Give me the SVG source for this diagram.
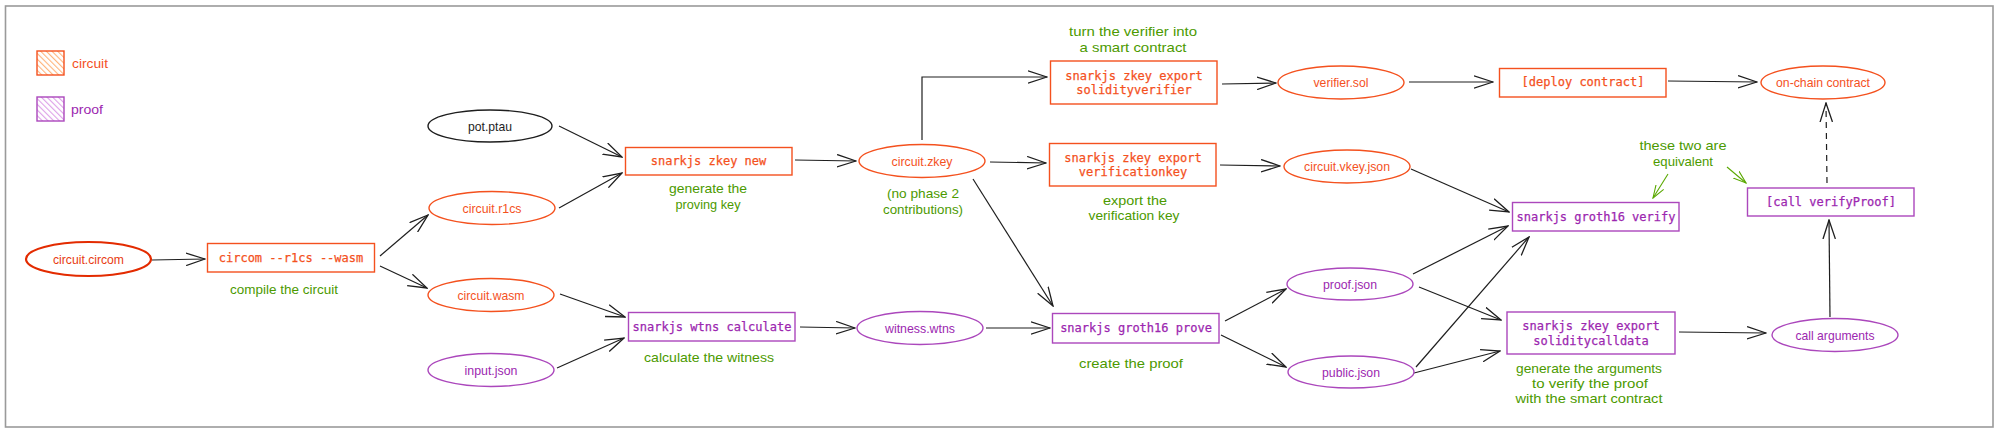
<svg xmlns="http://www.w3.org/2000/svg" width="2000" height="433" viewBox="0 0 2000 433">
<style>
.frame{fill:#fff;stroke:#9a9a9a;stroke-width:1.6}
.eo{fill:none;stroke:#f4511e;stroke-width:1.4}
.ep{fill:none;stroke:#ab47bc;stroke-width:1.4}
.ek{fill:none;stroke:#1e1e1e;stroke-width:1.4}
.ered{fill:none;stroke:#e32b00;stroke-width:2.2}
.bo{fill:none;stroke:#f4511e;stroke-width:1.4}
.bp{fill:none;stroke:#ab47bc;stroke-width:1.4}
.lo{font-family:"Liberation Sans",Arial,sans-serif;font-size:13.5px;fill:#f4511e;text-anchor:middle;dominant-baseline:central}
.lp{font-family:"Liberation Sans",Arial,sans-serif;font-size:13.5px;fill:#9c27b0;text-anchor:middle;dominant-baseline:central}
.lk{font-family:"Liberation Sans",Arial,sans-serif;font-size:13.5px;fill:#1e1e1e;text-anchor:middle;dominant-baseline:central}
.mo{font-family:"DejaVu Sans Mono","Liberation Mono",monospace;font-size:12px;fill:#f4511e;text-anchor:middle;dominant-baseline:central;stroke:#f4511e;stroke-width:0.25}
.mp{font-family:"DejaVu Sans Mono","Liberation Mono",monospace;font-size:12px;fill:#9c27b0;text-anchor:middle;dominant-baseline:central;stroke:#9c27b0;stroke-width:0.25}
.g{font-family:"Liberation Sans",Arial,sans-serif;font-size:13px;fill:#4c9a00;text-anchor:middle;dominant-baseline:central}
.c{fill:none;stroke:#1e1e1e;stroke-width:1.2}
.cg{fill:none;stroke:#5aa800;stroke-width:1.1}
</style>
<defs>
<marker id="ah" viewBox="0 0 20 14" refX="19" refY="7" markerWidth="20" markerHeight="14" markerUnits="userSpaceOnUse" orient="auto">
<path d="M0,0.8 L19,7 L0,13.2" fill="none" stroke="#1e1e1e" stroke-width="1.3"/>
</marker>
<marker id="ahg" viewBox="0 0 14 10" refX="13" refY="5" markerWidth="14" markerHeight="10" markerUnits="userSpaceOnUse" orient="auto">
<path d="M0,0.5 L13,5 L0,9.5" fill="none" stroke="#5aa800" stroke-width="1.1"/>
</marker>
<pattern id="hatchO" patternUnits="userSpaceOnUse" width="4" height="4" patternTransform="rotate(-45)">
<rect width="4" height="4" fill="#fff"/>
<line x1="0" y1="0" x2="0" y2="4" stroke="#ffb47a" stroke-width="2.2"/>
</pattern>
<pattern id="hatchP" patternUnits="userSpaceOnUse" width="4" height="4" patternTransform="rotate(-45)">
<rect width="4" height="4" fill="#fff"/>
<line x1="0" y1="0" x2="0" y2="4" stroke="#dda0e8" stroke-width="2.2"/>
</pattern>
</defs>
<rect class="frame" x="5.5" y="6" width="1987.5" height="421"/>

<g id="legend">
<rect x="37" y="51" width="27" height="24" fill="url(#hatchO)" stroke="#f4511e" stroke-width="1.4"/>
<text x="72" y="63" font-family="Liberation Sans,Arial,sans-serif" font-size="13" fill="#f4511e" dominant-baseline="central" textLength="36" lengthAdjust="spacingAndGlyphs">circuit</text>
<rect x="37" y="97" width="27" height="24" fill="url(#hatchP)" stroke="#ab47bc" stroke-width="1.4"/>
<text x="71" y="109" font-family="Liberation Sans,Arial,sans-serif" font-size="13" fill="#9c27b0" dominant-baseline="central" textLength="32" lengthAdjust="spacingAndGlyphs">proof</text>
</g>

<g id="connectors">
<line class="c" x1="152" y1="260" x2="205" y2="259" marker-end="url(#ah)"/>
<line class="c" x1="380" y1="256" x2="428" y2="215" marker-end="url(#ah)"/>
<line class="c" x1="380" y1="266" x2="427" y2="288" marker-end="url(#ah)"/>
<line class="c" x1="559" y1="126" x2="622" y2="157" marker-end="url(#ah)"/>
<line class="c" x1="559" y1="208" x2="622" y2="173" marker-end="url(#ah)"/>
<line class="c" x1="795" y1="160" x2="856" y2="161" marker-end="url(#ah)"/>
<line class="c" x1="560" y1="294" x2="625" y2="317" marker-end="url(#ah)"/>
<line class="c" x1="557" y1="368" x2="624" y2="338" marker-end="url(#ah)"/>
<line class="c" x1="800" y1="327" x2="855" y2="328" marker-end="url(#ah)"/>
<polyline class="c" points="922,140 922,77 1047,77" marker-end="url(#ah)"/>
<line class="c" x1="990" y1="162" x2="1046" y2="163" marker-end="url(#ah)"/>
<line class="c" x1="973" y1="179" x2="1053" y2="306" marker-end="url(#ah)"/>
<line class="c" x1="986" y1="328" x2="1050" y2="328" marker-end="url(#ah)"/>
<line class="c" x1="1222" y1="84" x2="1276" y2="83" marker-end="url(#ah)"/>
<line class="c" x1="1220" y1="165" x2="1280" y2="166" marker-end="url(#ah)"/>
<line class="c" x1="1409" y1="82" x2="1493" y2="82" marker-end="url(#ah)"/>
<line class="c" x1="1668" y1="81" x2="1757" y2="82" marker-end="url(#ah)"/>
<line class="c" x1="1411" y1="169" x2="1509" y2="212" marker-end="url(#ah)"/>
<line class="c" x1="1225" y1="321" x2="1286" y2="289" marker-end="url(#ah)"/>
<line class="c" x1="1221" y1="335" x2="1286" y2="367" marker-end="url(#ah)"/>
<line class="c" x1="1413" y1="274" x2="1508" y2="226" marker-end="url(#ah)"/>
<line class="c" x1="1419" y1="287" x2="1501" y2="320" marker-end="url(#ah)"/>
<line class="c" x1="1416" y1="367" x2="1529" y2="237" marker-end="url(#ah)"/>
<line class="c" x1="1414" y1="373" x2="1500" y2="351" marker-end="url(#ah)"/>
<line class="c" x1="1679" y1="332" x2="1766" y2="333" marker-end="url(#ah)"/>
<line class="c" x1="1830" y1="317" x2="1829" y2="220" marker-end="url(#ah)"/>
<line class="c" x1="1827" y1="183" x2="1826" y2="103" stroke-dasharray="6,5" marker-end="url(#ah)"/>
<line class="cg" x1="1668" y1="174" x2="1653" y2="198" marker-end="url(#ahg)"/>
<line class="cg" x1="1727" y1="167" x2="1746" y2="183" marker-end="url(#ahg)"/>
</g>

<g id="circuit-circom">
<ellipse class="ered" cx="88.5" cy="259" rx="62.5" ry="17"/>
<text class="lo" x="88.5" y="259" textLength="71" lengthAdjust="spacingAndGlyphs" style="fill:#e83a10">circuit.circom</text>
</g>
<g id="circom-cmd">
<rect class="bo" x="207.5" y="243.5" width="167" height="28.5"/>
<text class="mo" x="291" y="258">circom --r1cs --wasm</text>
<text class="g" x="284" y="289" textLength="108" lengthAdjust="spacingAndGlyphs">compile the circuit</text>
</g>
<g id="pot-ptau">
<ellipse class="ek" cx="490" cy="126" rx="62" ry="16"/>
<text class="lk" x="490" y="126" textLength="44" lengthAdjust="spacingAndGlyphs">pot.ptau</text>
</g>
<g id="circuit-r1cs">
<ellipse class="eo" cx="492" cy="208" rx="63" ry="16.5"/>
<text class="lo" x="492" y="208" textLength="59" lengthAdjust="spacingAndGlyphs">circuit.r1cs</text>
</g>
<g id="circuit-wasm">
<ellipse class="eo" cx="491" cy="295" rx="63" ry="16.5"/>
<text class="lo" x="491" y="295" textLength="67" lengthAdjust="spacingAndGlyphs">circuit.wasm</text>
</g>
<g id="input-json">
<ellipse class="ep" cx="491" cy="370" rx="63" ry="16.5"/>
<text class="lp" x="491" y="370" textLength="53" lengthAdjust="spacingAndGlyphs">input.json</text>
</g>
<g id="zkey-new">
<rect class="bo" x="625.5" y="147.5" width="166.5" height="27.5"/>
<text class="mo" x="708.5" y="161">snarkjs zkey new</text>
<text class="g" x="708" y="188" textLength="78" lengthAdjust="spacingAndGlyphs">generate the</text>
<text class="g" x="708" y="204" textLength="65" lengthAdjust="spacingAndGlyphs">proving key</text>
</g>
<g id="wtns-calculate">
<rect class="bp" x="628.5" y="312.5" width="166.5" height="28.5"/>
<text class="mp" x="712" y="327">snarkjs wtns calculate</text>
<text class="g" x="709" y="357" textLength="130" lengthAdjust="spacingAndGlyphs">calculate the witness</text>
</g>
<g id="circuit-zkey">
<ellipse class="eo" cx="922" cy="161" rx="63" ry="16.5"/>
<text class="lo" x="922" y="161" textLength="61" lengthAdjust="spacingAndGlyphs">circuit.zkey</text>
<text class="g" x="923" y="193" textLength="72" lengthAdjust="spacingAndGlyphs">(no phase 2</text>
<text class="g" x="923" y="209" textLength="80" lengthAdjust="spacingAndGlyphs">contributions)</text>
</g>
<g id="witness-wtns">
<ellipse class="ep" cx="920" cy="328" rx="63" ry="16.5"/>
<text class="lp" x="920" y="328" textLength="70" lengthAdjust="spacingAndGlyphs">witness.wtns</text>
</g>
<g id="export-solidityverifier">
<text class="g" x="1133" y="31" textLength="128" lengthAdjust="spacingAndGlyphs">turn the verifier into</text>
<text class="g" x="1133" y="47" textLength="107" lengthAdjust="spacingAndGlyphs">a smart contract</text>
<rect class="bo" x="1050.5" y="61" width="166.5" height="43"/>
<text class="mo" x="1134" y="76">snarkjs zkey export</text>
<text class="mo" x="1134" y="90">solidityverifier</text>
</g>
<g id="export-verificationkey">
<rect class="bo" x="1049.5" y="143.5" width="166.5" height="42.5"/>
<text class="mo" x="1133" y="158">snarkjs zkey export</text>
<text class="mo" x="1133" y="172">verificationkey</text>
<text class="g" x="1135" y="200" textLength="64" lengthAdjust="spacingAndGlyphs">export the</text>
<text class="g" x="1134" y="215" textLength="91" lengthAdjust="spacingAndGlyphs">verification key</text>
</g>
<g id="groth16-prove">
<rect class="bp" x="1052.5" y="313.5" width="166.5" height="29.5"/>
<text class="mp" x="1136" y="328">snarkjs groth16 prove</text>
<text class="g" x="1131" y="363" textLength="104" lengthAdjust="spacingAndGlyphs">create the proof</text>
</g>
<g id="verifier-sol">
<ellipse class="eo" cx="1341" cy="82.5" rx="63" ry="16.5"/>
<text class="lo" x="1341" y="82.5" textLength="55" lengthAdjust="spacingAndGlyphs">verifier.sol</text>
</g>
<g id="circuit-vkey-json">
<ellipse class="eo" cx="1347" cy="166.5" rx="63" ry="16.5"/>
<text class="lo" x="1347" y="166.5" textLength="86" lengthAdjust="spacingAndGlyphs">circuit.vkey.json</text>
</g>
<g id="proof-json">
<ellipse class="ep" cx="1350" cy="284" rx="63" ry="16"/>
<text class="lp" x="1350" y="284" textLength="54" lengthAdjust="spacingAndGlyphs">proof.json</text>
</g>
<g id="public-json">
<ellipse class="ep" cx="1351" cy="372" rx="63" ry="16"/>
<text class="lp" x="1351" y="372" textLength="58" lengthAdjust="spacingAndGlyphs">public.json</text>
</g>
<g id="deploy-contract">
<rect class="bo" x="1499.5" y="68.5" width="166.5" height="28.5"/>
<text class="mo" x="1583" y="82">[deploy contract]</text>
</g>
<g id="on-chain-contract">
<ellipse class="eo" cx="1823" cy="82.5" rx="62" ry="16.5"/>
<text class="lo" x="1823" y="82.5" textLength="94" lengthAdjust="spacingAndGlyphs">on-chain contract</text>
</g>
<g id="groth16-verify">
<rect class="bp" x="1512.5" y="202.5" width="166.5" height="28.5"/>
<text class="mp" x="1596" y="217">snarkjs groth16 verify</text>
</g>
<g id="equivalent-note">
<text class="g" x="1683" y="145" textLength="87" lengthAdjust="spacingAndGlyphs">these two are</text>
<text class="g" x="1683" y="161" textLength="60" lengthAdjust="spacingAndGlyphs">equivalent</text>
</g>
<g id="call-verifyproof">
<rect class="bp" x="1747.5" y="188" width="166.5" height="28"/>
<text class="mp" x="1831" y="202">[call verifyProof]</text>
</g>
<g id="export-soliditycalldata">
<rect class="bp" x="1507" y="312" width="168" height="42"/>
<text class="mp" x="1591" y="326">snarkjs zkey export</text>
<text class="mp" x="1591" y="341">soliditycalldata</text>
<text class="g" x="1589" y="368" textLength="146" lengthAdjust="spacingAndGlyphs">generate the arguments</text>
<text class="g" x="1590" y="383" textLength="116" lengthAdjust="spacingAndGlyphs">to verify the proof</text>
<text class="g" x="1589" y="398" textLength="147" lengthAdjust="spacingAndGlyphs">with the smart contract</text>
</g>
<g id="call-arguments">
<ellipse class="ep" cx="1835" cy="335" rx="63" ry="16.5"/>
<text class="lp" x="1835" y="335" textLength="79" lengthAdjust="spacingAndGlyphs">call arguments</text>
</g>
</svg>
